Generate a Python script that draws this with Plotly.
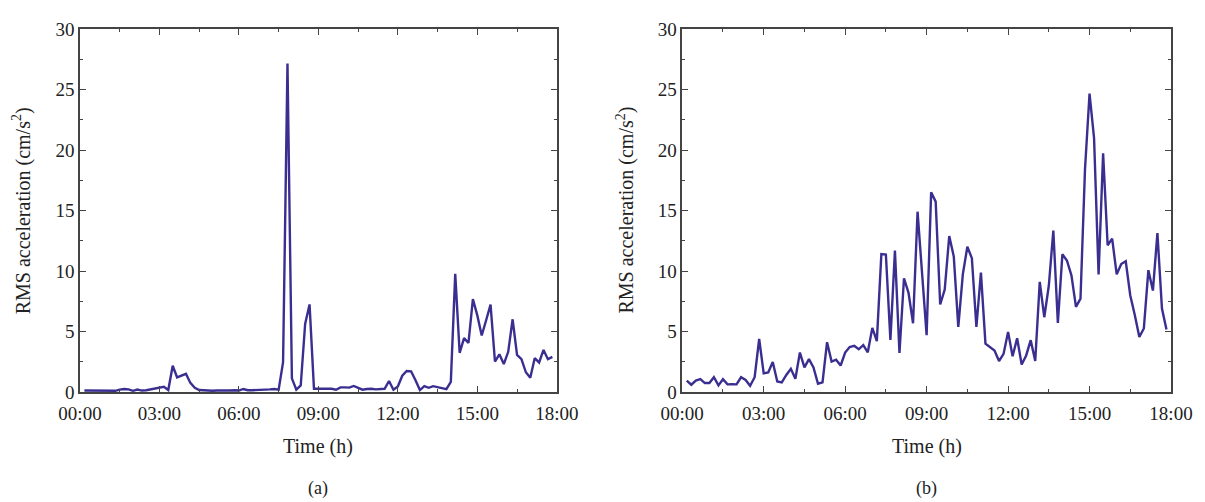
import plotly.graph_objects as go

# time in hours (10-minute samples)
time_h = [k / 6 for k in range(1, 108)]

rms_a = [0.12, 0.12, 0.10, 0.12, 0.10, 0.12, 0.15, 0.10, 0.20, 0.25,
         0.22, 0.10, 0.20, 0.12, 0.15, 0.22, 0.25, 0.30, 0.43, 0.16,
         2.17, 1.20, 1.35, 1.50, 0.75, 0.35, 0.16, 0.12, 0.12, 0.10,
         0.12, 0.10, 0.12, 0.12, 0.15, 0.12, 0.25, 0.15, 0.15, 0.15,
         0.18, 0.20, 0.22, 0.25, 0.19, 2.47, 27.14, 1.13, 0.19, 0.54,
         5.63, 7.24, 0.27, 0.27, 0.27, 0.27, 0.27, 0.19, 0.38, 0.38,
         0.36, 0.50, 0.32, 0.19, 0.25, 0.27, 0.22, 0.22, 0.27, 0.91,
         0.19, 0.46, 1.35, 1.74, 1.71, 0.97, 0.16, 0.48, 0.35, 0.48,
         0.38, 0.30, 0.24, 0.83, 9.76, 3.24, 4.45, 4.05, 7.67, 6.33,
         4.67, 5.93, 7.22, 2.52, 3.11, 2.31, 3.32, 6.01, 3.06, 2.71,
         1.63, 1.18, 2.79, 2.44, 3.48, 2.71, 2.90]

rms_b = [0.95, 0.60, 0.95, 1.06, 0.74, 0.74, 1.22, 0.55, 1.06, 0.63,
         0.65, 0.63, 1.22, 1.00, 0.52, 1.22, 4.38, 1.54, 1.62, 2.48,
         0.87, 0.79, 1.41, 1.92, 1.09, 3.26, 2.03, 2.72, 2.03, 0.68,
         0.79, 4.12, 2.51, 2.67, 2.19, 3.26, 3.72, 3.82, 3.53, 3.87,
         3.28, 5.30, 4.20, 11.40, 11.35, 4.30, 11.68, 3.22, 9.40, 8.20,
         5.68, 14.90, 9.80, 4.70, 16.50, 15.73, 7.23, 8.46, 12.89, 11.20,
         5.38, 9.72, 12.00, 11.06, 5.37, 9.86, 4.00, 3.69, 3.42, 2.56,
         3.15, 4.96, 2.96, 4.44, 2.27, 3.02, 4.28, 2.56, 9.10, 6.18,
         8.78, 13.34, 5.70, 11.38, 10.87, 9.64, 7.04, 7.71, 18.44, 24.66,
         20.98, 9.72, 19.72, 12.13, 12.67, 9.72, 10.58, 10.80, 7.98, 6.37,
         4.55, 5.25, 10.07, 8.38, 13.13, 6.90, 5.16]

x_tickvals = [0, 3, 6, 9, 12, 15, 18]
x_ticktext = ["00:00", "03:00", "06:00", "09:00", "12:00", "15:00", "18:00"]
y_tickvals = [0, 5, 10, 15, 20, 25, 30]

line_color = "#3a2f91"
axis_color = "#444444"
font_family = "Liberation Serif"

fig = go.Figure()
fig.add_trace(go.Scatter(x=time_h, y=rms_a, mode="lines",
                         line=dict(color=line_color, width=2.4),
                         xaxis="x", yaxis="y", showlegend=False))
fig.add_trace(go.Scatter(x=time_h, y=rms_b, mode="lines",
                         line=dict(color=line_color, width=2.4),
                         xaxis="x2", yaxis="y2", showlegend=False))

xcommon = dict(range=[0, 18], tickvals=x_tickvals, ticktext=x_ticktext,
               ticks="inside", ticklen=6, tickwidth=1.2, tickcolor=axis_color,
               showline=True, linecolor=axis_color, linewidth=1.5,
               mirror="allticks", showgrid=False, zeroline=False,
               ticklabelstandoff=3,
               tickfont=dict(family=font_family, size=19, color="#222222"),
               minor=dict(dtick=1.5, tick0=0, ticks="inside", ticklen=3,
                          tickwidth=1, tickcolor=axis_color, showgrid=False))
ycommon = dict(range=[0, 30], tickvals=y_tickvals,
               ticks="inside", ticklen=6, tickwidth=1.2, tickcolor=axis_color,
               showline=True, linecolor=axis_color, linewidth=1.5,
               mirror="allticks", showgrid=False, zeroline=False,
               tickfont=dict(family=font_family, size=19, color="#222222"),
               minor=dict(dtick=2.5, tick0=0, ticks="inside", ticklen=3,
                          tickwidth=1, tickcolor=axis_color, showgrid=False))

# page body adds an 8px margin; compensate so the plot lands where the reference has it
fig.update_layout(
    width=1197, height=494,
    margin=dict(l=72, r=34, t=11, b=110),
    paper_bgcolor="white", plot_bgcolor="white",
    font=dict(family=font_family, size=19, color="#222222"),
    xaxis=dict(domain=[0, 0.437], anchor="y", **xcommon),
    yaxis=dict(domain=[0, 1], anchor="x", **ycommon),
    xaxis2=dict(domain=[0.552, 1], anchor="y2", **xcommon),
    yaxis2=dict(domain=[0, 1], anchor="x2", **ycommon),
)

ytitle = "RMS acceleration (cm/s<sup>2</sup>)"
ann = [
    dict(text=ytitle, xref="x domain", yref="y domain", x=-0.122, y=0.5,
         textangle=-90, showarrow=False, xanchor="center", yanchor="middle",
         font=dict(size=20)),
    dict(text=ytitle, xref="x2 domain", yref="y2 domain", x=-0.117, y=0.5,
         textangle=-90, showarrow=False, xanchor="center", yanchor="middle",
         font=dict(size=20)),
    dict(text="Time (h)", xref="x domain", yref="paper", x=0.5, y=-0.15,
         showarrow=False, xanchor="center", yanchor="middle", font=dict(size=20)),
    dict(text="Time (h)", xref="x2 domain", yref="paper", x=0.5, y=-0.15,
         showarrow=False, xanchor="center", yanchor="middle", font=dict(size=20)),
    dict(text="(a)", xref="x domain", yref="paper", x=0.5, y=-0.265,
         showarrow=False, xanchor="center", yanchor="middle", font=dict(size=18)),
    dict(text="(b)", xref="x2 domain", yref="paper", x=0.5, y=-0.265,
         showarrow=False, xanchor="center", yanchor="middle", font=dict(size=18)),
]
fig.update_layout(annotations=ann)

fig.write_html("out.html")
